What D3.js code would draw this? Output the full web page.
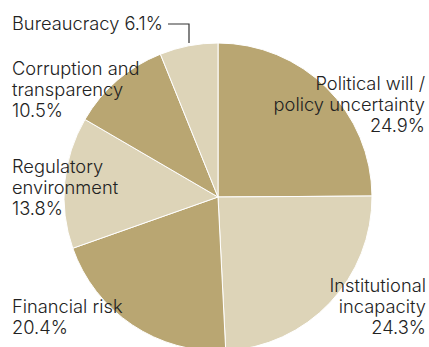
<!DOCTYPE html>
<html><head><meta charset="utf-8">
<script src="https://cdn.jsdelivr.net/npm/d3@7"></script>
<style>html,body{margin:0;padding:0;background:#fff;}svg{display:block;}</style>
</head><body>
<svg id="chart" width="429" height="347"></svg>
<script>
const categories = ["Political will / policy uncertainty","Institutional incapacity","Financial risk","Regulatory environment","Corruption and transparency","Bureaucracy"];
const values = [24.9, 24.3, 20.4, 13.8, 10.5, 6.1];
const labelLines = [
  ["Political will /","policy uncertainty","24.9%"],
  ["Institutional","incapacity","24.3%"],
  ["Financial risk","20.4%"],
  ["Regulatory","environment","13.8%"],
  ["Corruption and","transparency","10.5%"],
  ["Bureaucracy 6.1%"]
];
const colors = ["#b9a672","#ddd4b8"];

const svg = d3.select("#chart");
const cx = 218, cy = 197, r = 154;
const pie = d3.pie().sort(null).value(d => d)(values);
const arc = d3.arc().innerRadius(0).outerRadius(r);
const g = svg.append("g").attr("transform", `translate(${cx},${cy})`);
g.selectAll("path").data(pie).join("path")
  .attr("d", arc)
  .attr("fill", (d,i) => colors[i % 2])
  .attr("stroke", "#fff").attr("stroke-width", 1);

const pos = [
  [425, 90, "end"],
  [426, 292, "end"],
  [12, 313, "start"],
  [12, 173, "start"],
  [12, 75, "start"],
  [12, 30, "start"]
];
const lh = 21;
labelLines.forEach((lines, i) => {
  const t = svg.append("text")
    .attr("x", pos[i][0]).attr("y", pos[i][1])
    .attr("text-anchor", pos[i][2])
    .attr("font-family", "Inter, sans-serif")
    .attr("font-size", 18.3)
    .attr("font-weight", 300)
    .attr("fill", "#222");
  lines.forEach((l, j) => {
    t.append("tspan").attr("x", pos[i][0]).attr("y", pos[i][1] + j * lh).text(l);
  });
});

svg.append("path")
  .attr("d", `M168,24 H189 V43`)
  .attr("fill", "none").attr("stroke", "#333").attr("stroke-width", 1.2);
</script>
</body></html>
